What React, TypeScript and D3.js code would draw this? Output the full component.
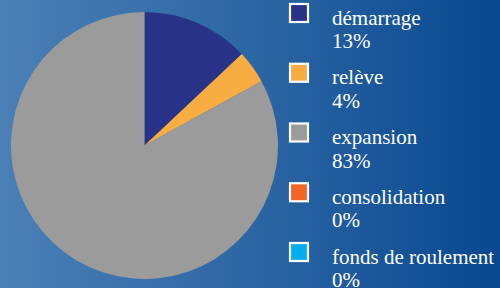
import React from "react";
import * as d3 from "d3";

const categories = ["démarrage", "relève", "expansion", "consolidation", "fonds de roulement"];
const values = [13, 4, 83, 0, 0];
const labels = ["13%", "4%", "83%", "0%", "0%"];
const colors = ["#283388", "#f8ad43", "#9b9b9b", "#f26522", "#00aeef"];

const W = 500;
const H = 288;

export default function App() {
  const cx = 144.5;
  const cy = 145.5;
  const r = 133.5;
  const pie = d3.pie<number>().sort(null).value((d) => d)(values);
  const arc = d3.arc<d3.PieArcDatum<number>>().innerRadius(0).outerRadius(r);
  const legendY = d3.scaleLinear().domain([0, 4]).range([3, 242]);
  const font = "'Liberation Serif', 'Times New Roman', serif";
  return (
    <svg width={W} height={H} style={{ position: "absolute", left: 0, top: 0, display: "block" }}>
      <defs>
        <linearGradient id="bg" x1="0" y1="0" x2="1" y2="0">
          <stop offset="0" stopColor="#4a80b6" />
          <stop offset="0.5" stopColor="#2d66a4" />
          <stop offset="1" stopColor="#084890" />
        </linearGradient>
      </defs>
      <rect x={0} y={0} width={W} height={H} fill="url(#bg)" />
      <g transform={`translate(${cx},${cy})`}>
        {pie.map((p, i) =>
          p.value > 0 ? <path key={i} d={arc(p) || ""} fill={colors[i]} /> : null
        )}
      </g>
      {categories.map((c, i) => {
        const y = legendY(i);
        return (
          <g key={c}>
            <rect x={290} y={y + 1} width={18} height={18} fill={colors[i]} stroke="#ffffff" strokeWidth={2.2} />
            <text x={332} y={y + 21.5} fill="#ffffff" fontFamily={font} fontSize={21}>
              {c}
            </text>
            <text x={332} y={y + 45} fill="#ffffff" fontFamily={font} fontSize={21}>
              {labels[i]}
            </text>
          </g>
        );
      })}
    </svg>
  );
}
